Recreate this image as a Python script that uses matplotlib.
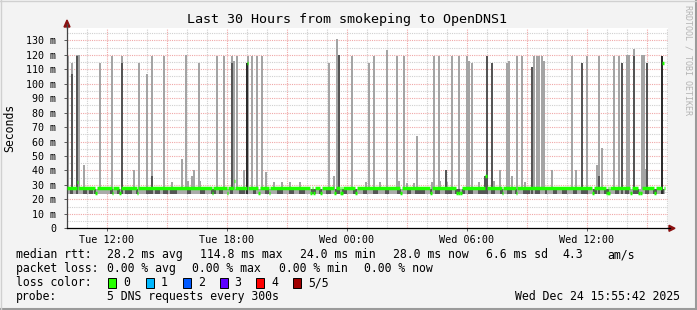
import numpy as np
import matplotlib
matplotlib.use('Agg')
import matplotlib.pyplot as plt
from matplotlib.patches import Polygon, Rectangle
from matplotlib.lines import Line2D

plt.rcParams['font.family'] = ['DejaVu Sans Mono']

W, H = 697, 310

# time axis is hours since Tue 10:00
tick_hours = [2, 8, 14, 20, 26]
tick_labels = ['Tue 12:00', 'Tue 18:00', 'Wed 00:00', 'Wed 06:00', 'Wed 12:00']
y_ticks = [0, 10, 20, 30, 40, 50, 60, 70, 80, 90, 100, 110, 120, 130]
y_labels = ['0'] + ['%d m' % v for v in y_ticks[1:]]

data_end = 29.9
base_low = 23.6      # lowest ping band (ms)
base_high = 27.5
median_base = 28.0

# smoke spikes: position (h), top of light smoke (ms), top of dark smoke (ms, 0 = none)
spike_h = [0.07, 0.24, 0.49, 0.59, 0.85, 1.67, 2.24, 2.74, 3.35, 3.6, 3.99, 4.25, 4.84, 5.24,
           5.74, 5.95, 6.05, 6.25, 6.35, 6.6, 6.65, 7.49, 7.84, 8.24, 8.34, 8.49, 8.87, 8.99,
           9.07, 9.27, 9.5, 9.75, 9.95, 10.35, 10.74, 11.15, 11.65, 13.1, 13.34, 13.49, 13.6,
           14.24, 14.94, 15.09, 15.35, 15.65, 15.99, 16.49, 16.6, 16.84, 16.99, 17.35, 17.5,
           18.24, 18.34, 18.59, 18.65, 18.94, 18.99, 19.25, 19.6, 20.0, 20.1, 20.24, 20.62,
           20.9, 21.0, 21.25, 21.34, 21.67, 22.0, 22.1, 22.24, 22.49, 22.74, 22.9, 23.25,
           23.34, 23.49, 23.6, 23.75, 23.85, 24.24, 25.25, 25.43, 25.75, 26.0, 26.52, 26.6,
           26.75, 27.35, 27.6, 27.75, 28.0, 28.1, 28.34, 28.74, 28.87, 28.95, 28.99, 29.75]
spike_top = [119, 114.6, 120, 120, 43.6, 114.6, 119, 119, 40, 114.6, 107, 119, 119, 32,
             48, 120, 33, 36, 40, 114.6, 33, 119, 119, 119, 116, 119, 40, 114.6,
             119, 119, 119, 119, 38.7, 32, 32, 32, 32, 114.6, 36, 130.7, 120,
             119, 32, 114.6, 119, 32, 123, 119, 33, 119, 31, 31, 63.6,
             32, 119, 119, 33, 32, 32, 119, 119, 119, 116, 114.6, 32,
             36, 119, 114.6, 33, 40, 114.6, 116, 36, 119, 119, 32, 111.5,
             119, 119, 119, 119, 116, 40, 119, 40, 114.6, 119, 43.6, 119,
             55.8, 119, 119, 114.6, 120, 120, 124, 120, 120, 41, 114.6, 119]
spike_dark = [0, 107, 119, 0, 0, 0, 0, 114.6, 0, 0, 0, 36, 0, 0,
              0, 0, 0, 0, 0, 0, 0, 0, 0, 114.6, 0, 0, 0, 114.6,
              0, 0, 0, 0, 0, 0, 0, 0, 0, 0, 0, 0, 119.6,
              0, 0, 0, 0, 0, 0, 0, 0, 0, 0, 0, 0,
              0, 0, 0, 0, 40, 0, 0, 0, 0, 0, 0, 0,
              36, 119, 114.6, 0, 0, 0, 0, 0, 0, 0, 0, 111.5,
              0, 0, 0, 0, 0, 0, 0, 0, 114.6, 0, 0, 36,
              0, 0, 0, 114.6, 0, 0, 119, 0, 0, 0, 114.6, 119]
very_dark_h = [8.99, 29.75]

# darker stretches inside the low ping band (start h, end h)
dark_base = [(0.15, 0.25), (0.45, 0.55), (0.8, 1.0), (1.1, 1.3), (1.35, 1.45), (2.15, 2.3),
             (2.5, 2.65), (2.9, 3.25), (3.45, 3.55), (3.95, 4.2), (4.4, 4.65), (4.8, 5.05),
             (5.15, 5.5), (6.0, 6.2), (6.65, 6.9), (7.2, 7.45), (7.6, 7.8), (8.15, 8.3),
             (8.6, 8.9), (9.3, 9.45), (9.9, 10.1), (10.5, 10.8), (11.1, 11.35), (11.6, 11.9),
             (12.2, 12.45), (12.6, 12.75), (12.95, 13.2), (13.4, 13.55), (13.75, 14.0),
             (14.3, 14.5), (14.8, 15.0), (15.3, 15.55), (15.9, 16.1), (16.5, 16.7),
             (17.0, 17.2), (17.4, 17.9), (18.15, 18.25), (18.4, 18.65), (18.9, 19.25),
             (19.4, 19.65), (19.75, 19.9), (20.05, 20.3), (20.55, 21.05), (21.25, 21.4),
             (21.65, 21.8), (22.0, 22.25), (22.4, 22.5), (22.8, 23.15), (23.4, 23.65),
             (23.9, 24.0), (24.3, 24.5), (24.75, 25.0), (25.3, 25.5), (25.8, 26.05),
             (26.3, 26.5), (26.85, 27.1), (27.4, 27.6), (27.9, 28.1), (28.4, 28.6),
             (28.9, 29.1), (29.3, 29.5), (29.7, 29.85)]

# median rtt departures from the 28 ms baseline
median_h = [0.49, 1.41, 2.24, 2.6, 3.49, 7.24, 7.99, 8.34, 8.99, 9.57, 10.09, 12.15, 12.3,
            12.65, 13.35, 13.65, 13.72, 14.4, 16.65, 18.15, 19.45, 19.55, 19.65, 20.9,
            21.73, 22.43, 26.25, 26.94, 27.0, 27.06, 28.15, 28.55, 28.65, 29.35, 29.75]
median_val = [32, 24.5, 24.5, 24.5, 24.5, 24.5, 24.5, 33, 114.6, 24.5, 24.5, 24.5, 24.5,
              24.5, 24.5, 24.5, 24.5, 24.5, 24.5, 24.5, 24.5, 24.5, 24.5, 36,
              24.5, 24.5, 24.5, 24.5, 24.5, 24.5, 24.5, 24.5, 24.5, 24.5, 114.6]
step = 5.0 / 60

fig = plt.figure(figsize=(W / 100, H / 100), dpi=100)
fig.patch.set_facecolor('#f3f3f3')
ax = fig.add_axes([67 / W, (H - 228.3) / H, 601 / W, 200.3 / H])
ax.set_facecolor('white')
ax.set_xlim(0, 30.05)
ax.set_ylim(0, 138.5)

# grid
for h in range(0, 31):
    major = (h - 2) % 3 == 0
    ax.axvline(h, color='#f0a8a8' if major else '#d0d0d0', lw=0.8, dashes=(1, 1), zorder=0)
for v in range(5, 140, 5):
    major = v % 10 == 0
    ax.axhline(v, color='#f0a8a8' if major else '#d0d0d0', lw=0.8, dashes=(1, 1), zorder=0)

# low ping band
ax.bar(0, base_high - base_low, bottom=base_low, width=data_end, align='edge',
       color='#aaaaaa', lw=0, zorder=1)
for s, e in dark_base:
    ax.bar(s, base_high - base_low, bottom=base_low, width=e - s, align='edge',
           color='#555555', lw=0, zorder=1)

# spikes
for h, t, d in zip(spike_h, spike_top, spike_dark):
    ax.bar(h, t - base_high, bottom=base_high, width=0.1, color='#a4a4a4', lw=0, zorder=2)
    if d > 0:
        c = '#2c2c2c' if h in very_dark_h else '#555555'
        ax.bar(h, d - base_low, bottom=base_low, width=0.1, color=c, lw=0, zorder=3)

# median line
green = '#1eff00'
prev = 0.0
for h, v in zip(median_h, median_val):
    ax.hlines(median_base, prev, h, color=green, lw=2.5, zorder=4)
    ax.hlines(v, h, h + step, color=green, lw=2.5, zorder=4)
    prev = h + step
ax.hlines(median_base, prev, data_end, color=green, lw=2.5, zorder=4)

ax.set_xticks(tick_hours)
ax.set_xticklabels(tick_labels, fontsize=7.3)
ax.set_yticks(y_ticks)
ax.set_yticklabels(y_labels, fontsize=7.2)
ax.tick_params(length=2, width=0.6, color='#444444', pad=3)
ax.tick_params(axis='y', pad=6)
for sp in ['top', 'right']:
    ax.spines[sp].set_visible(False)
ax.spines['bottom'].set_color('black')
ax.spines['left'].set_color('#444444')
ax.spines['bottom'].set_linewidth(0.9)
ax.spines['left'].set_linewidth(0.9)


def fx(px):
    return px / W


def fy(py):
    return 1 - py / H


# axis extension and arrows
fig.add_artist(Line2D([fx(67), fx(67)], [fy(28), fy(24)], color='#444444', lw=0.9))
fig.add_artist(Line2D([fx(668), fx(670)], [fy(228.3), fy(228.3)], color='black', lw=0.9))
fig.add_artist(Polygon([[fx(64), fy(27)], [fx(70), fy(27)], [fx(67), fy(20)]],
                       closed=True, color='#8b1010', transform=fig.transFigure))
fig.add_artist(Polygon([[fx(669), fy(225.3)], [fx(669), fy(231.3)], [fx(675), fy(228.3)]],
                       closed=True, color='#8b1010', transform=fig.transFigure))

# titles
fig.text(fx(347), fy(19), 'Last 30 Hours from smokeping to OpenDNS1', ha='center',
         va='center', fontsize=9.6)
fig.text(fx(10), fy(128), 'Seconds', rotation=90, ha='center', va='center', fontsize=8.3)
fig.text(fx(688), fy(5), 'RRDTOOL / TOBI OETIKER', rotation=270, ha='center', va='top',
         fontsize=6, color='#b4b4b4')

# legend rows
fs = 8.3
rows = [254.7, 268.3, 282.7, 296.7]
row1 = [(16, 'median rtt:'), (107, '28.2 ms avg'), (200, '114.8 ms max'), (300, '24.0 ms min'),
        (393, '28.0 ms now'), (486, '6.6 ms sd'), (562, '4.3'), (607, 'am/s')]
row2 = [(16, 'packet loss:'), (107, '0.00 % avg'), (192, '0.00 % max'), (279, '0.00 % min'),
        (364, '0.00 % now')]
for x, s in row1:
    fig.text(fx(x), fy(rows[0]), s, va='center', fontsize=fs)
for x, s in row2:
    fig.text(fx(x), fy(rows[1]), s, va='center', fontsize=fs)

loss_labels = ['0', '1', '2', '3', '4', '5/5']
loss_colors = ['#26ff00', '#00b8ff', '#0059ff', '#5e00ff', '#ff0000', '#a00000']
loss_x = [108.4, 145.8, 182.7, 219.6, 256.4, 293.3]
fig.text(fx(16), fy(rows[2]), 'loss color:', va='center', fontsize=fs)
for x, lab, c in zip(loss_x, loss_labels, loss_colors):
    fig.add_artist(Rectangle((fx(x), fy(rows[2] + 5)), 8 / W, 10 / H, facecolor=c,
                             edgecolor='black', lw=0.7, transform=fig.transFigure))
    fig.text(fx(x + 15), fy(rows[2]), lab, va='center', fontsize=fs)

fig.text(fx(16), fy(rows[3]), 'probe:', va='center', fontsize=fs)
fig.text(fx(107), fy(rows[3]), '5 DNS requests every 300s', va='center', fontsize=fs)
fig.text(fx(680), fy(rows[3]), 'Wed Dec 24 15:55:42 2025', va='center', ha='right', fontsize=fs)

# image frame
fig.add_artist(Line2D([0, 1], [fy(309), fy(309)], color='#9a9a9a', lw=1.5))
fig.add_artist(Line2D([fx(696), fx(696)], [0, 1], color='#9a9a9a', lw=1.5))
fig.add_artist(Line2D([0, 1], [fy(0.5), fy(0.5)], color='#d0d0d0', lw=1))
fig.add_artist(Line2D([fx(0.5), fx(0.5)], [0, 1], color='#d0d0d0', lw=1))

fig.savefig('out.png', dpi=100, facecolor=fig.get_facecolor())
